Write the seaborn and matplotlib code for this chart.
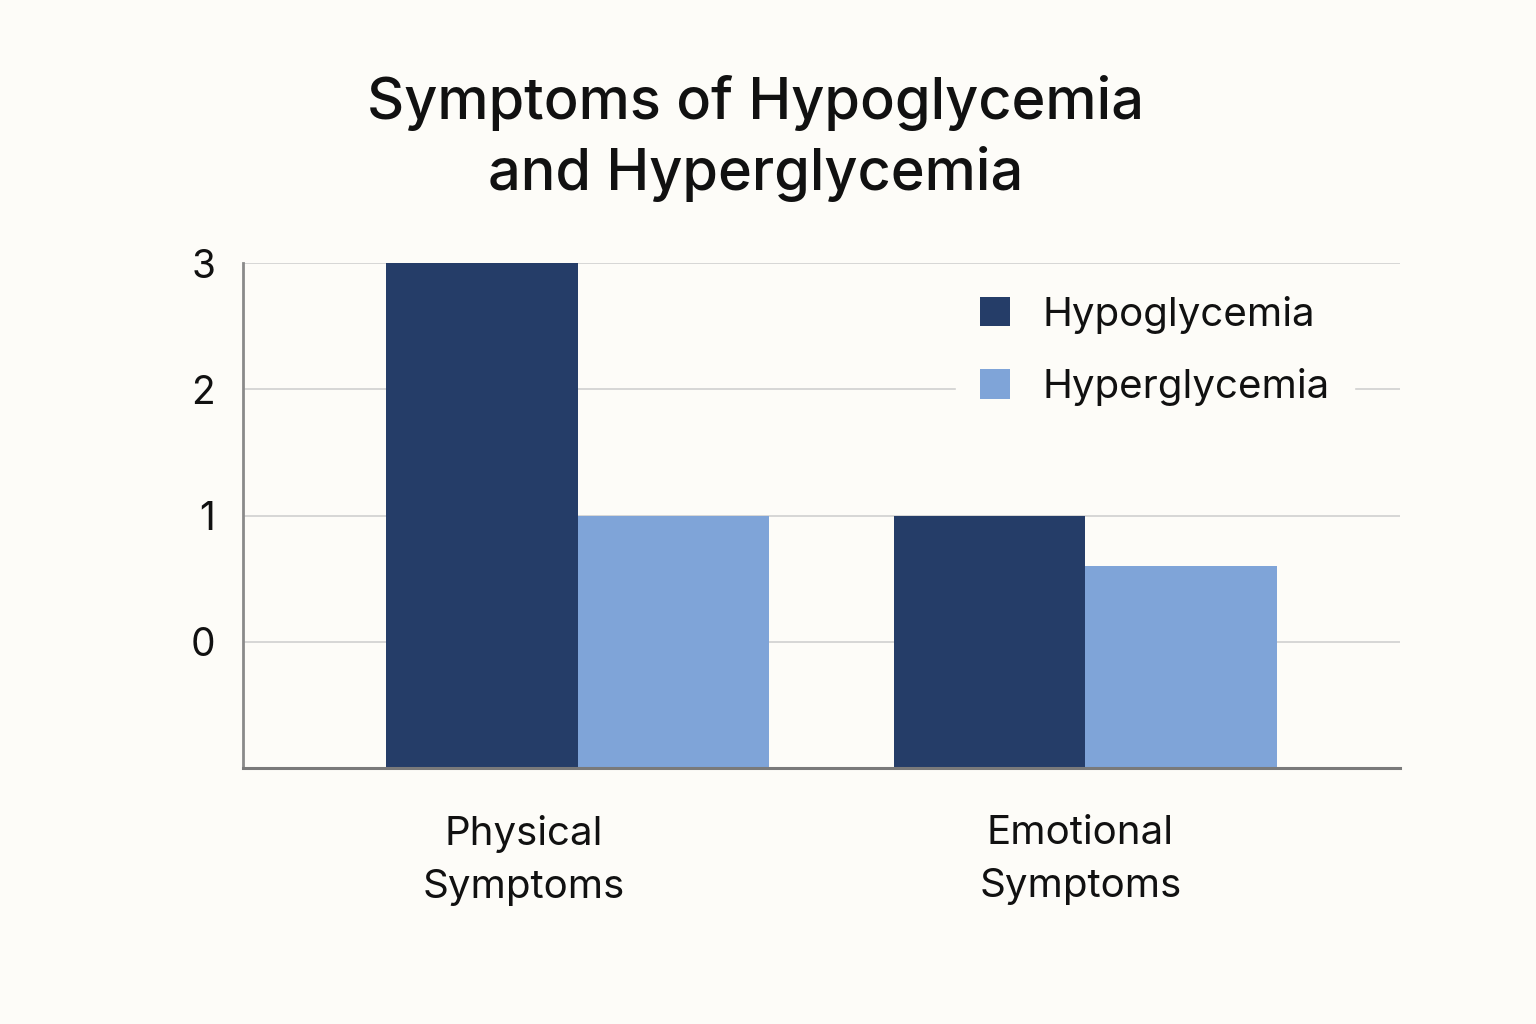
import matplotlib
matplotlib.use("Agg")
import matplotlib.pyplot as plt
import seaborn as sns
import pandas as pd

categories = ["Physical\nSymptoms", "Emotional\nSymptoms"]
series = ["Hypoglycemia", "Hyperglycemia"]
hypo_values = [3, 1]
hyper_values = [1, 0.6]
y_ticks = [0, 1, 2, 3]
baseline = -1

colors = ["#253d68", "#7fa4d8"]
bg = "#fdfcf8"

df = pd.DataFrame({
    "category": categories * 2,
    "series": [series[0]] * 2 + [series[1]] * 2,
    "value": hypo_values + hyper_values,
})
df["height"] = df["value"] - baseline

sns.set_theme(style="white")
plt.rcParams["font.family"] = ["Inter", "DejaVu Sans"]

fig = plt.figure(figsize=(15.36, 10.24), dpi=100, facecolor=bg)
ax = fig.add_axes([243 / 1536, 1 - 768 / 1024, (1400 - 243) / 1536, (768 - 263) / 1024])
ax.set_facecolor(bg)

sns.barplot(data=df, x="category", y="height", hue="series", order=categories,
            hue_order=series, palette=colors, width=0.755, gap=0,
            bottom=baseline, linewidth=0, saturation=1, ax=ax, zorder=2,
            legend=False)

ax.set_ylim(baseline, 3)
ax.set_xlim(-0.66, 1.62)
ax.set_yticks(y_ticks)
ax.set_yticklabels([str(t) for t in y_ticks], fontsize=28, color="#111111")
ax.yaxis.grid(True, color="#d0d0d0", linewidth=1.2, zorder=0)
ax.set_axisbelow(True)
ax.tick_params(axis="y", length=0, pad=20)
ax.tick_params(axis="x", length=0, pad=34)
ax.set_xticks([-0.107, 0.99])
ax.set_xticklabels(categories, fontsize=29, color="#111111", linespacing=1.55)
ax.set_xlabel("")
ax.set_ylabel("")

for s in ["top", "right"]:
    ax.spines[s].set_visible(False)
ax.spines["left"].set_color("#8a8a8a")
ax.spines["left"].set_linewidth(2)
ax.spines["bottom"].set_color("#7a7a7a")
ax.spines["bottom"].set_linewidth(2.2)

handles = [c.patches[0] for c in ax.containers]
leg = ax.legend(handles, series, loc="upper left", bbox_to_anchor=(0.616, 0.983), frameon=True,
                fontsize=29, handlelength=0.75, handleheight=0.75, handletextpad=0.8,
                labelspacing=0.85, borderpad=0.6, borderaxespad=0)
leg.get_frame().set_facecolor(bg)
leg.get_frame().set_edgecolor(bg)
leg.get_frame().set_alpha(1)
for t in leg.get_texts():
    t.set_color("#111111")

fig.text(0.492, 0.865, "Symptoms of Hypoglycemia\nand Hyperglycemia", ha="center", va="center",
         fontsize=41.5, fontweight="medium", color="#111111", linespacing=1.35)

fig.savefig("out.png", dpi=100, facecolor=bg)
